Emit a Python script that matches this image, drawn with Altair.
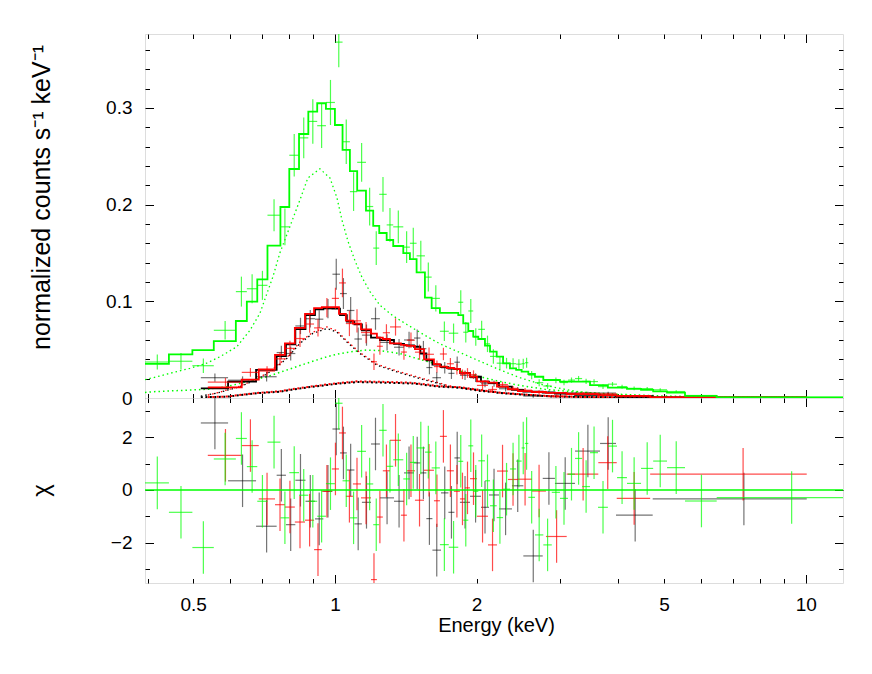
import altair as alt
import pandas as pd

FONT = "Liberation Sans"

# ---------------- axes ----------------
x_range = [0.395, 12.0]
rate_range = [0.0, 0.3764]
chi_range = [-3.54, 3.5]

x_label_values = [0.5, 1, 2, 5, 10]
x_major_ticks = [1, 10]
x_minor_ticks = [0.4, 0.5, 0.6, 0.7, 0.8, 0.9, 2, 3, 4, 5, 6, 7, 8, 9]
rate_label_values = [0, 0.1, 0.2, 0.3]
rate_minor_ticks = [0.02, 0.04, 0.06, 0.08, 0.12, 0.14, 0.16, 0.18,
                    0.22, 0.24, 0.26, 0.28, 0.32, 0.34, 0.36]
chi_label_values = [-2, 0, 2]
chi_minor_ticks = [-3, -1, 1, 3]
chi_zero = [0]

y_title_top = "normalized counts s\u207b\u00b9 keV\u207b\u00b9"
y_title_bot = "\u03c7"
x_title = "Energy (keV)"

# ---------------- dataset 3 (green) ----------------
green_edges = [0.395, 0.444, 0.498, 0.553, 0.616, 0.650, 0.684, 0.719, 0.766, 0.800,
               0.839, 0.878, 0.917, 0.957, 1.000, 1.038, 1.076, 1.115, 1.164, 1.206,
               1.242, 1.288, 1.330, 1.397, 1.443, 1.491, 1.553, 1.605, 1.671, 1.745,
               1.828, 1.873, 1.920, 1.967, 2.016, 2.083, 2.135, 2.206, 2.276, 2.354,
               2.426, 2.492, 2.532, 2.575, 2.660, 2.771, 2.888, 3.006, 3.126, 3.235,
               3.350, 3.482, 3.621, 3.800, 3.974, 4.172, 4.469, 4.742, 5.075, 5.541,
               6.470, 12.2]
green_model = [0.0352, 0.0452, 0.0496, 0.0589, 0.0796, 0.0996, 0.1227, 0.1575, 0.1975, 0.2368,
               0.2730, 0.2961, 0.3048, 0.2989, 0.2823, 0.2565, 0.2347, 0.2144, 0.1937, 0.1779,
               0.1706, 0.1634, 0.1572, 0.1499, 0.1437, 0.1300, 0.1037, 0.0930, 0.0880, 0.0880,
               0.0858, 0.0772, 0.0693, 0.0634, 0.0610, 0.0541, 0.0479, 0.0427, 0.0359, 0.0307,
               0.0290, 0.0272, 0.0272, 0.0248, 0.0220, 0.0186, 0.0186, 0.0169, 0.0169, 0.0169,
               0.0169, 0.0134, 0.0134, 0.0107, 0.0107, 0.0095, 0.0083, 0.0068, 0.0055, 0.0022,
               0.0005]
green_rate = [0.0372, 0.0380, 0.0334, 0.0700, 0.1100, 0.1130, 0.1165, 0.1890, 0.1770, 0.2510,
              0.2690, 0.2860, 0.2816, 0.3056, 0.3680, 0.2650, 0.2134, 0.2437, 0.1980, 0.1550,
              0.2106, 0.1790, 0.1770, 0.1560, 0.1600, 0.1470, 0.1250, 0.1030, 0.0690, 0.0670,
              0.0990, 0.0680, 0.0900, 0.0630, 0.0710, 0.0560, 0.0430, 0.0360, 0.0360, 0.0355,
              0.0350, 0.0355, 0.0365, 0.0236, 0.0158, 0.0124, 0.0183, 0.0160, 0.0185, 0.0201,
              0.0172, 0.0170, 0.0118, 0.0143, 0.0117, 0.0100, 0.0097, 0.0085, 0.0067, 0.0026,
              0.0006]
green_err = [0.0078, 0.0086, 0.0075, 0.0095, 0.0155, 0.0150, 0.0150, 0.0165, 0.0190, 0.0220,
             0.0210, 0.0230, 0.0230, 0.0233, 0.0260, 0.0230, 0.0200, 0.0200, 0.0195, 0.0175,
             0.0180, 0.0175, 0.0170, 0.0165, 0.0160, 0.0155, 0.0150, 0.0135, 0.0100, 0.0100,
             0.0125, 0.0105, 0.0125, 0.0090, 0.0090, 0.0085, 0.0075, 0.0065, 0.0055, 0.0055,
             0.0050, 0.0052, 0.0052, 0.0042, 0.0036, 0.0030, 0.0030, 0.0028, 0.0027, 0.0027,
             0.0026, 0.0025, 0.0024, 0.0022, 0.0021, 0.0019, 0.0017, 0.0016, 0.0014, 0.0010,
             0.0006]
green_chi = [0.27, -0.85, -2.19, 1.18, 1.96, 0.89, -0.43, 1.82, -1.06, 0.66,
             -0.20, -0.43, -1.00, 0.24, 3.30, 0.35, -1.06, 1.47, 0.23, -1.32,
             2.27, 0.90, 1.15, 0.42, 1.05, 1.60, 1.44, 0.84, -2.08, -2.18,
             1.09, -1.15, 1.68, -0.05, 1.11, 0.35, -0.60, -1.05, 0.03, 0.80,
             1.10, 1.60, 1.77, -0.28, -1.71, -2.09, -0.09, -0.32, 0.60, 1.20,
             0.13, 1.42, -0.66, 1.67, 0.47, 0.25, 0.82, 1.10, 0.85, -0.42,
             -0.29]

# ---------------- dataset 1 (black) ----------------
black_edges = [0.519, 0.593, 0.680, 0.752, 0.787, 0.824, 0.866, 0.907, 0.945, 0.988,
               1.025, 1.060, 1.100, 1.141, 1.193, 1.246, 1.335, 1.402, 1.472, 1.519,
               1.564, 1.611, 1.680, 1.742, 1.794, 1.843, 1.936, 2.043, 2.124, 2.231,
               2.377, 2.513, 2.763, 2.933, 3.235, 3.657, 3.954, 4.731, 10.05]
black_model = [0.0100, 0.0170, 0.0290, 0.0434, 0.0555, 0.0713, 0.0858, 0.0917, 0.0927, 0.0925,
               0.0858, 0.0789, 0.0762, 0.0700, 0.0625, 0.0600, 0.0560, 0.0545, 0.0530, 0.0460,
               0.0390, 0.0345, 0.0320, 0.0305, 0.0300, 0.0260, 0.0220, 0.0170, 0.0155, 0.0117,
               0.0085, 0.0065, 0.0055, 0.0045, 0.0033, 0.0028, 0.0018, 0.0005]
black_rate = [0.0210, 0.0184, 0.0220, 0.0470, 0.0460, 0.0745, 0.0820, 0.0815, 0.0925, 0.1280,
              0.1080, 0.0905, 0.0610, 0.0650, 0.0820, 0.0575, 0.0525, 0.0600, 0.0620, 0.0510,
              0.0315, 0.0210, 0.0313, 0.0255, 0.0370, 0.0235, 0.0210, 0.0147, 0.0149, 0.0096,
              0.0089, 0.0020, 0.0062, 0.0049, 0.0052, 0.0051, 0.0008, 0.0003]
black_err = [0.0043, 0.0040, 0.0050, 0.0070, 0.0072, 0.0085, 0.0090, 0.0092, 0.0100, 0.0160,
             0.0160, 0.0140, 0.0120, 0.0110, 0.0115, 0.0085, 0.0085, 0.0085, 0.0088, 0.0080,
             0.0070, 0.0060, 0.0060, 0.0058, 0.0058, 0.0050, 0.0045, 0.0036, 0.0032, 0.0029,
             0.0025, 0.0018, 0.0016, 0.0015, 0.0013, 0.0013, 0.0010, 0.0006]
black_chi = [2.55, 0.35, -1.38, 0.56, -1.32, 0.37, -0.43, -1.10, -0.05, 2.32,
             1.41, 0.76, -1.29, -0.47, 1.75, -0.30, -0.43, 0.65, 1.03, 0.65,
             -1.09, -2.29, -0.11, -0.85, 1.22, -0.47, -0.24, -0.66, -0.19, -0.72,
             0.16, -2.51, 0.44, 0.25, 1.48, 1.77, -0.96, -0.34]

# ---------------- dataset 2 (red) ----------------
red_edges = [0.537, 0.634, 0.689, 0.746, 0.783, 0.822, 0.864, 0.903, 0.938, 0.985,
             1.020, 1.055, 1.092, 1.136, 1.193, 1.228, 1.264, 1.309, 1.381, 1.422,
             1.479, 1.546, 1.623, 1.671, 1.729, 1.789, 1.843, 1.889, 1.936, 2.003,
             2.114, 2.209, 2.331, 2.448, 2.621, 2.807, 3.107, 3.626, 3.968, 4.673,
             10.05]
red_model = [0.0110, 0.0190, 0.0295, 0.0445, 0.0565, 0.0725, 0.0870, 0.0930, 0.0940, 0.0940,
             0.0870, 0.0800, 0.0770, 0.0710, 0.0665, 0.0625, 0.0610, 0.0565, 0.0550, 0.0540,
             0.0505, 0.0400, 0.0350, 0.0325, 0.0310, 0.0302, 0.0262, 0.0255, 0.0222, 0.0172,
             0.0160, 0.0118, 0.0090, 0.0072, 0.0062, 0.0052, 0.0040, 0.0030, 0.0021, 0.0006]
red_rate = [0.0165, 0.0265, 0.0278, 0.0405, 0.0513, 0.0615, 0.0765, 0.0725, 0.0935, 0.1030,
            0.1190, 0.0770, 0.0798, 0.0677, 0.0375, 0.0535, 0.0675, 0.0735, 0.0475, 0.0598,
            0.0474, 0.0452, 0.0325, 0.0455, 0.0354, 0.0300, 0.0245, 0.0259, 0.0241, 0.0130,
            0.0088, 0.0139, 0.0100, 0.0081, 0.0061, 0.0020, 0.0048, 0.0043, 0.0018, 0.0010]
red_err = [0.0042, 0.0045, 0.0050, 0.0070, 0.0080, 0.0088, 0.0090, 0.0090, 0.0100, 0.0110,
           0.0148, 0.0130, 0.0120, 0.0110, 0.0085, 0.0088, 0.0088, 0.0090, 0.0080, 0.0080,
           0.0079, 0.0070, 0.0062, 0.0064, 0.0060, 0.0058, 0.0050, 0.0050, 0.0045, 0.0042,
           0.0035, 0.0029, 0.0025, 0.0022, 0.0020, 0.0018, 0.0013, 0.0012, 0.0010, 0.0006]
red_chi = [1.32, 1.69, -0.34, -0.56, -0.65, -1.22, -1.15, -2.27, -0.05, 0.80,
           2.17, -0.24, 0.23, -0.30, -3.41, -1.03, 0.73, 1.89, -0.96, 0.73,
           -0.39, 0.75, -0.41, 2.04, 0.73, -0.05, -0.34, 0.08, 0.43, -1.00,
           -2.09, 0.72, 0.40, 0.41, -0.04, -1.77, 0.60, 1.04, -0.32, 0.60]

# ---------------- model components (dotted) ----------------
g1_e = [0.395, 0.411, 0.446, 0.492, 0.534, 0.570, 0.619, 0.660, 0.693, 0.717,
        0.738, 0.764, 0.802, 0.843, 0.876, 0.929, 0.976, 1.010, 1.035, 1.066,
        1.103, 1.141, 1.187, 1.246, 1.328, 1.422, 1.538, 1.671, 1.843, 2.033,
        2.242, 2.472, 2.793, 3.235, 3.841, 4.907, 6.585, 12.0]
g1_v = [0.019, 0.021, 0.0255, 0.0307, 0.036, 0.0427, 0.053, 0.070, 0.0876, 0.108,
        0.125, 0.150, 0.177, 0.205, 0.2275, 0.237, 0.2275, 0.207, 0.184, 0.162,
        0.142, 0.125, 0.110, 0.096, 0.085, 0.076, 0.066, 0.056, 0.047, 0.038,
        0.029, 0.021, 0.013, 0.007, 0.0035, 0.0012, 0.0003, 0.0001]
g2_e = [0.395, 0.411, 0.534, 0.589, 0.650, 0.717, 0.791, 0.872, 0.962, 1.025,
        1.092, 1.169, 1.246, 1.374, 1.515, 1.671, 1.843, 2.033, 2.242, 2.472,
        2.793, 3.235, 3.841, 4.907, 6.585, 12.0]
g2_v = [0.0058, 0.0065, 0.009, 0.0117, 0.0169, 0.022, 0.029, 0.036, 0.0427, 0.046,
        0.048, 0.0496, 0.049, 0.046, 0.040, 0.034, 0.028, 0.022, 0.017, 0.013,
        0.009, 0.0062, 0.0042, 0.0022, 0.0008, 0.0002]
b1_e = [0.519, 0.561, 0.628, 0.693, 0.738, 0.791, 0.843, 0.898, 0.962, 1.010,
        1.060, 1.130, 1.228, 1.354, 1.515, 1.631, 1.755, 2.033, 2.472, 3.006,
        4.034, 10.05]
b1_v = [0.002, 0.005, 0.0117, 0.0204, 0.029, 0.041, 0.0566, 0.0669, 0.072, 0.068,
        0.058, 0.046, 0.034, 0.027, 0.020, 0.016, 0.0117, 0.007, 0.0035, 0.0017,
        0.0006, 0.0001]
r1_e = [0.537, 0.561, 0.628, 0.693, 0.738, 0.791, 0.843, 0.898, 0.962, 1.010,
        1.060, 1.130, 1.228, 1.354, 1.515, 1.631, 1.755, 2.033, 2.472, 3.006,
        4.034, 10.05]
r1_v = [0.003, 0.0052, 0.0122, 0.0212, 0.030, 0.042, 0.058, 0.068, 0.0735, 0.0695,
        0.059, 0.047, 0.035, 0.028, 0.021, 0.0168, 0.0124, 0.0075, 0.0038, 0.0018,
        0.0006, 0.0001]
b2_e = [0.519, 0.589, 0.683, 0.764, 0.802, 0.898, 1.025, 1.114, 1.246, 1.464,
        1.671, 1.843, 2.005, 2.276, 2.900, 4.034, 10.05]
b2_v = [0.0008, 0.0013, 0.0049, 0.0065, 0.0083, 0.0117, 0.0150, 0.0165, 0.0160, 0.0150,
        0.0117, 0.0107, 0.0083, 0.0049, 0.0015, 0.0004, 0.0001]
r2_e = [0.537, 0.589, 0.683, 0.764, 0.802, 0.898, 1.025, 1.114, 1.246, 1.464,
        1.671, 1.843, 2.005, 2.276, 2.900, 4.034, 10.05]
r2_v = [0.0009, 0.0015, 0.0052, 0.0070, 0.0088, 0.0122, 0.0156, 0.0172, 0.0168, 0.0157,
        0.0122, 0.0112, 0.0087, 0.0052, 0.0016, 0.0004, 0.0001]

BLACK, RED, GREEN = "#000000", "#ff0000", "#00ff00"
W, H_TOP, H_BOT = 698, 364, 185

X_SCALE = alt.Scale(type="log", domain=x_range, nice=False)
TOP_SCALE = alt.Scale(domain=rate_range, nice=False, zero=False)
BOT_SCALE = alt.Scale(domain=chi_range, nice=False, zero=False)


def bin_table(edges, rate, err, model, chi):
    df = pd.DataFrame({"lo": edges[:-1], "hi": edges[1:], "rate": rate,
                       "err": err, "model": model, "chi": chi})
    df["mid"] = (df["lo"] + df["hi"]) / 2
    df["rate_lo"] = df["rate"] - df["err"]
    df["rate_hi"] = df["rate"] + df["err"]
    df["chi_lo"] = df["chi"] - 1
    df["chi_hi"] = df["chi"] + 1
    return df


def step_table(df):
    e, m, o = [], [], []
    for i, (lo, hi, v) in enumerate(zip(df["lo"], df["hi"], df["model"])):
        e += [lo, hi]
        m += [v, v]
        o += [2 * i, 2 * i + 1]
    return pd.DataFrame({"e": e, "m": m, "o": o})


def xq(field):
    return alt.X(f"{field}:Q", scale=X_SCALE, axis=None)


def yq(field, sc):
    return alt.Y(f"{field}:Q", scale=sc, axis=None)


def errbars(df, color, yf, lof, hif, sc, op=0.7):
    h = alt.Chart(df).mark_rule(color=color, strokeWidth=1.2, opacity=op, clip=True).encode(
        x=xq("lo"), x2="hi", y=yq(yf, sc))
    v = alt.Chart(df).mark_rule(color=color, strokeWidth=1.2, opacity=op, clip=True).encode(
        x=xq("mid"), y=yq(lof, sc), y2=hif)
    return [h, v]


def model_line(df, color):
    return alt.Chart(step_table(df)).mark_line(color=color, strokeWidth=1.8, clip=True).encode(
        x=xq("e"), y=yq("m", TOP_SCALE), order="o:Q")


def comp_line(e, v, color, width=1.3, dash=(1.5, 3)):
    df = pd.DataFrame({"e": e, "v": v})
    return alt.Chart(df).mark_line(color=color, strokeWidth=width, strokeDash=list(dash),
                                   clip=True).encode(x=xq("e"), y=yq("v", TOP_SCALE))


AXIS_DF = pd.DataFrame({"x": [1.0], "y": [0.0]})


def y_axis_layer(sc, axis):
    return alt.Chart(AXIS_DF).mark_point(opacity=0).encode(
        x=alt.X("x:Q", scale=X_SCALE, axis=None), y=alt.Y("y:Q", scale=sc, axis=axis))


def x_axis_layer(sc, axis):
    return alt.Chart(AXIS_DF).mark_point(opacity=0).encode(
        x=alt.X("x:Q", scale=X_SCALE, axis=axis), y=alt.Y("y:Q", scale=sc, axis=None))


def tick_axis(orient, values, size):
    return alt.Axis(orient=orient, values=values, labels=False, domain=False, grid=False,
                    ticks=True, tickSize=size, offset=-size, tickColor="black",
                    tickWidth=1, title=None)


def frame_axes(sc, major_y, minor_y):
    layers = []
    for orient in ("left", "right"):
        layers.append(y_axis_layer(sc, tick_axis(orient, major_y, 8.5)))
        layers.append(y_axis_layer(sc, tick_axis(orient, minor_y, 4.5)))
    for orient in ("top", "bottom"):
        layers.append(x_axis_layer(sc, tick_axis(orient, x_major_ticks, 8.5)))
        layers.append(x_axis_layer(sc, tick_axis(orient, x_minor_ticks, 4.5)))
    return layers


def y_label_axis(values, title, title_x, title_y, title_size):
    return alt.Axis(orient="left", values=values, format="~g", ticks=False, tickSize=0,
                    domain=False, grid=False, labelPadding=13, labelFont=FONT,
                    labelFontSize=19, labelColor="black", labelFlush=False,
                    title=title, titleFont=FONT, titleFontSize=title_size,
                    titleFontWeight="normal", titleColor="black", titleAngle=270,
                    titleBaseline="bottom", titleAlign="center",
                    titleX=title_x, titleY=title_y)


g_df = bin_table(green_edges, green_rate, green_err, green_model, green_chi)
k_df = bin_table(black_edges, black_rate, black_err, black_model, black_chi)
r_df = bin_table(red_edges, red_rate, red_err, red_model, red_chi)

# ---------------- top panel ----------------
top_layers = frame_axes(TOP_SCALE, rate_label_values, rate_minor_ticks)
top_layers.append(y_axis_layer(TOP_SCALE, y_label_axis(rate_label_values, y_title_top,
                                                       -91, 163, 25)))
top_layers += [
    comp_line(b2_e, b2_v, BLACK, 2.0, (2, 2.5)),
    comp_line(r2_e, r2_v, RED, 2.0, (2, 2.5)),
    comp_line(b1_e, b1_v, BLACK),
    comp_line(r1_e, r1_v, RED),
    comp_line(g2_e, g2_v, GREEN, 1.5),
    comp_line(g1_e, g1_v, GREEN),
]
top_layers += errbars(k_df, BLACK, "rate", "rate_lo", "rate_hi", TOP_SCALE, 0.55)
top_layers.append(model_line(k_df, BLACK))
top_layers += errbars(r_df, RED, "rate", "rate_lo", "rate_hi", TOP_SCALE)
top_layers.append(model_line(r_df, RED))
top_layers += errbars(g_df, GREEN, "rate", "rate_lo", "rate_hi", TOP_SCALE)
top_layers.append(model_line(g_df, GREEN))

top = alt.layer(*top_layers).resolve_axis(x="independent", y="independent").properties(
    width=W, height=H_TOP)

# ---------------- bottom panel ----------------
bot_layers = frame_axes(BOT_SCALE, chi_label_values, chi_minor_ticks)
bot_layers.append(y_axis_layer(BOT_SCALE, y_label_axis(chi_label_values, y_title_bot,
                                                       -92, 92, 24)))
bot_layers.append(x_axis_layer(BOT_SCALE, alt.Axis(
    orient="bottom", values=x_label_values, format="~g", ticks=False, tickSize=0,
    domain=False, grid=False, labelPadding=12, labelFont=FONT, labelFontSize=19,
    labelColor="black", labelFlush=False, title=x_title, titleFont=FONT,
    titleFontSize=20, titleFontWeight="normal", titleColor="black", titleAngle=0,
    titleBaseline="top", titleAlign="center", titleX=351, titleY=32)))
bot_layers += errbars(k_df, BLACK, "chi", "chi_lo", "chi_hi", BOT_SCALE, 0.55)
bot_layers += errbars(r_df, RED, "chi", "chi_lo", "chi_hi", BOT_SCALE)
bot_layers += errbars(g_df, GREEN, "chi", "chi_lo", "chi_hi", BOT_SCALE)
bot_layers.append(alt.Chart(pd.DataFrame({"y": chi_zero})).mark_rule(
    color=GREEN, strokeWidth=1.6).encode(y=yq("y", BOT_SCALE)))

bottom = alt.layer(*bot_layers).resolve_axis(x="independent", y="independent").properties(
    width=W, height=H_BOT)

chart = alt.vconcat(top, bottom, spacing=0, bounds="flush").properties(
    padding={"left": 20, "top": 25, "right": 12, "bottom": 10}
).configure_view(stroke="black", strokeWidth=1).configure(background="white")

chart.save("out.html", embed_options={"renderer": "svg", "actions": False})
